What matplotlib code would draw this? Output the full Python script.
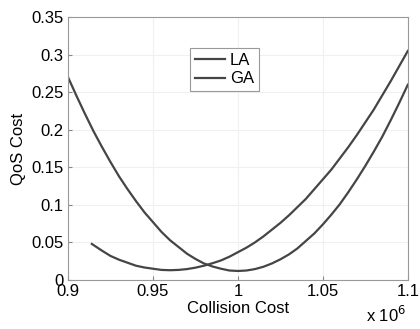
import matplotlib
matplotlib.use("Agg")
from matplotlib import pyplot as plt
from matplotlib.ticker import FormatStrFormatter

plt.rcParams['font.family'] = ['Liberation Sans', 'DejaVu Sans']

# collision cost in units of 1e6
x_la = [0.900, 0.905, 0.910, 0.915, 0.920, 0.925, 0.930, 0.935, 0.940, 0.945,
        0.950, 0.955, 0.960, 0.965, 0.970, 0.975, 0.980, 0.985, 0.990, 0.995,
        1.000, 1.005, 1.010, 1.015, 1.020, 1.025, 1.030, 1.035, 1.040, 1.045,
        1.050, 1.055, 1.060, 1.065, 1.070, 1.075, 1.080, 1.085, 1.090, 1.095, 1.100]
qos_la = [0.270, 0.245, 0.221, 0.198, 0.177, 0.157, 0.138, 0.121, 0.105, 0.090,
          0.077, 0.064, 0.053, 0.044, 0.035, 0.028, 0.022, 0.018, 0.015, 0.0126,
          0.012, 0.0126, 0.0145, 0.0176, 0.022, 0.0275, 0.034, 0.042, 0.052, 0.062,
          0.074, 0.087, 0.101, 0.117, 0.134, 0.152, 0.171, 0.191, 0.213, 0.236, 0.260]

x_ga = [0.914, 0.920, 0.925, 0.930, 0.935, 0.940, 0.945,
        0.950, 0.955, 0.960, 0.965, 0.970, 0.975, 0.980, 0.985, 0.990, 0.995,
        1.000, 1.005, 1.010, 1.015, 1.020, 1.025, 1.030, 1.035, 1.040, 1.045,
        1.050, 1.055, 1.060, 1.065, 1.070, 1.075, 1.080, 1.085, 1.090, 1.095, 1.100]
qos_ga = [0.048, 0.039, 0.032, 0.027, 0.023, 0.019, 0.0166,
          0.015, 0.0134, 0.013, 0.0134, 0.0145, 0.0164, 0.019, 0.0223, 0.026, 0.031,
          0.037, 0.043, 0.050, 0.058, 0.067, 0.076, 0.086, 0.097, 0.108, 0.121,
          0.134, 0.147, 0.162, 0.177, 0.193, 0.210, 0.227, 0.246, 0.265, 0.285, 0.305]

line_col = '#454545'

fig = plt.figure(figsize=[4.2, 3.29], dpi=100)
ax = fig.add_axes([0.162, 0.149, 0.809, 0.799])
ax.plot(x_la, qos_la, color=line_col, lw=1.6, label='LA')
ax.plot(x_ga, qos_ga, color=line_col, lw=1.6, label='GA')

ax.set_xlim(0.9, 1.1)
ax.set_ylim(0, 0.35)
ax.set_xticks([0.9, 0.95, 1.0, 1.05, 1.1])
ax.set_yticks([0, 0.05, 0.1, 0.15, 0.2, 0.25, 0.3, 0.35])
ax.xaxis.set_major_formatter(FormatStrFormatter('%g'))
ax.yaxis.set_major_formatter(FormatStrFormatter('%g'))
ax.tick_params(direction='in', length=3, color='#888888', labelsize=12, pad=3)
ax.grid(True, color='#f0f0f0', lw=0.8)
for s in ax.spines.values():
    s.set_color('#999999')
    s.set_linewidth(0.8)

ax.set_xlabel('Collision Cost', fontsize=12, labelpad=1)
ax.set_ylabel('QoS Cost', fontsize=12, labelpad=4)
fig.text(0.872, 0.012, r'x 10$^6$', fontsize=12, ha='left', va='bottom')

leg = ax.legend(loc='center', bbox_to_anchor=(0.46, 0.80), fontsize=12,
                fancybox=False, framealpha=1, edgecolor='#999999',
                handlelength=1.8, handletextpad=0.3, borderpad=0.3,
                labelspacing=0.2)
leg.get_frame().set_linewidth(0.8)

plt.savefig("out.png", dpi=100)
